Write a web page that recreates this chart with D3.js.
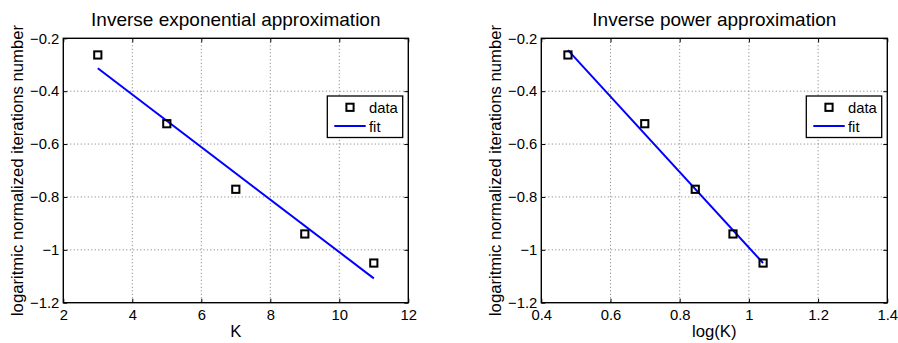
<!DOCTYPE html>
<html lang="en">
  <head>
    <meta charset="UTF-8" />
    <title>Inverse exponential / power approximation</title>
    <script src="https://d3js.org/d3.v7.min.js"></script>
    <style>
      html,
      body {
        margin: 0;
        padding: 0;
        background: #fff;
      }
      svg text {
        font-family: "Liberation Sans", Arial, Helvetica, sans-serif;
        fill: #000;
      }
      .grid line {
        stroke: #7a7a7a;
        stroke-width: 1;
        stroke-dasharray: 1, 2.5;
      }
    </style>
  </head>
  <body>
    <div id="chart"></div>

    <script>
      // Données
      const kValues = [3, 5, 7, 9, 11];
      const logKValues = [0.477, 0.699, 0.845, 0.954, 1.041];
      const logIterations = [-0.263, -0.523, -0.771, -0.94, -1.05];

      // Extrémités des droites de régression
      const expFitX = [3, 11];
      const expFitY = [-0.313, -1.108];
      const powFitX = [0.477, 1.041];
      const powFitY = [-0.245, -1.05];

      // Graduations
      const expXTicks = [2, 4, 6, 8, 10, 12];
      const powXTicks = [0.4, 0.6, 0.8, 1, 1.2, 1.4];
      const yTicks = [-1.2, -1, -0.8, -0.6, -0.4, -0.2];

      const titles = ["Inverse exponential approximation", "Inverse power approximation"];
      const xLabels = ["K", "log(K)"];
      const yLabel = "logaritmic normalized iterations number";
      const legendLabels = ["data", "fit"];

      const width = 898;
      const height = 343;

      const svg = d3
        .select("#chart")
        .append("svg")
        .attr("width", width)
        .attr("height", height);

      const fmt = (d) => String(d).replace("-", "\u2212");

      function drawPanel(opts) {
        const left = opts.left,
          right = opts.right,
          top = 38.3,
          bottom = 302.7;

        const x = d3.scaleLinear().domain(opts.xDomain).range([left, right]);
        const y = d3.scaleLinear().domain([-1.2, -0.2]).range([bottom, top]);

        const g = svg.append("g");

        // grille pointillée
        const grid = g.append("g").attr("class", "grid");
        grid
          .selectAll("line.v")
          .data(opts.xTicks.slice(1, -1))
          .join("line")
          .attr("class", "v")
          .attr("x1", (d) => x(d))
          .attr("x2", (d) => x(d))
          .attr("y1", top)
          .attr("y2", bottom);
        grid
          .selectAll("line.h")
          .data(yTicks.slice(1, -1))
          .join("line")
          .attr("class", "h")
          .attr("x1", left)
          .attr("x2", right)
          .attr("y1", (d) => y(d))
          .attr("y2", (d) => y(d));

        // axes (graduations vers l'intérieur)
        const styleAxis = (sel, showText) => {
          sel.select(".domain").remove();
          sel.selectAll(".tick line").attr("stroke", "#000").attr("stroke-width", 1);
          sel
            .selectAll(".tick text")
            .style("font-size", "14.8px")
            .style("font-family", '"Liberation Sans", Arial, sans-serif')
            .attr("fill", "#000");
          if (!showText) sel.selectAll(".tick text").remove();
        };

        g.append("g")
          .attr("transform", `translate(0,${bottom})`)
          .call(
            d3.axisBottom(x).tickValues(opts.xTicks).tickFormat(fmt)
              .tickSizeInner(-4).tickSizeOuter(0).tickPadding(7.3)
          )
          .call((s) => styleAxis(s, true));
        g.append("g")
          .attr("transform", `translate(0,${top})`)
          .call(d3.axisTop(x).tickValues(opts.xTicks).tickSizeInner(-4).tickSizeOuter(0))
          .call((s) => styleAxis(s, false));
        g.append("g")
          .attr("transform", `translate(${left},0)`)
          .call(
            d3.axisLeft(y).tickValues(yTicks).tickFormat(fmt)
              .tickSizeInner(-4).tickSizeOuter(0).tickPadding(4)
          )
          .call((s) => styleAxis(s, true));
        g.append("g")
          .attr("transform", `translate(${right},0)`)
          .call(d3.axisRight(y).tickValues(yTicks).tickSizeInner(-4).tickSizeOuter(0))
          .call((s) => styleAxis(s, false));

        // cadre
        g.append("rect")
          .attr("x", left)
          .attr("y", top)
          .attr("width", right - left)
          .attr("height", bottom - top)
          .attr("fill", "none")
          .attr("stroke", "#000")
          .attr("stroke-width", 1.4);

        // droite de régression
        const fitData = opts.fitX.map((d, i) => [d, opts.fitY[i]]);
        g.append("path")
          .datum(fitData)
          .attr("fill", "none")
          .attr("stroke", "#0000ff")
          .attr("stroke-width", 2)
          .attr("d", d3.line().x((d) => x(d[0])).y((d) => y(d[1])));

        // points
        const pts = opts.xs.map((d, i) => [d, logIterations[i]]);
        g.selectAll("rect.pt")
          .data(pts)
          .join("rect")
          .attr("class", "pt")
          .attr("x", (d) => x(d[0]) - 3.6)
          .attr("y", (d) => y(d[1]) - 3.6)
          .attr("width", 7.2)
          .attr("height", 7.2)
          .attr("fill", "none")
          .attr("stroke", "#000")
          .attr("stroke-width", 2);

        // titre
        g.append("text")
          .attr("x", (left + right) / 2)
          .attr("y", 25.5)
          .attr("text-anchor", "middle")
          .style("font-size", "19px")
          .text(opts.title);

        // titres des axes
        g.append("text")
          .attr("x", (left + right) / 2)
          .attr("y", 336.7)
          .attr("text-anchor", "middle")
          .style("font-size", "16.7px")
          .text(opts.xLabel);

        g.append("text")
          .attr("transform", `translate(${left - 40},${(top + bottom) / 2}) rotate(-90)`)
          .attr("text-anchor", "middle")
          .style("font-size", "16.7px")
          .text(yLabel);

        // légende
        const lx = right - 81,
          ly = 96;
        const leg = g.append("g").attr("transform", `translate(${lx},${ly})`);
        leg.append("rect")
          .attr("width", 75.4)
          .attr("height", 41.5)
          .attr("fill", "#fff")
          .attr("stroke", "#000")
          .attr("stroke-width", 1.3);
        leg.append("rect")
          .attr("x", 22.7 - 3.6)
          .attr("y", 11.3 - 3.6)
          .attr("width", 7.2)
          .attr("height", 7.2)
          .attr("fill", "none")
          .attr("stroke", "#000")
          .attr("stroke-width", 2);
        leg.append("line")
          .attr("x1", 7)
          .attr("x2", 38.4)
          .attr("y1", 30)
          .attr("y2", 30)
          .attr("stroke", "#0000ff")
          .attr("stroke-width", 2);
        leg.append("text")
          .attr("x", 41.7)
          .attr("y", 17)
          .style("font-size", "14.8px")
          .text(legendLabels[0]);
        leg.append("text")
          .attr("x", 41.7)
          .attr("y", 35.7)
          .style("font-size", "14.8px")
          .text(legendLabels[1]);
      }

      drawPanel({
        left: 63.3,
        right: 408.3,
        xDomain: [2, 12],
        xTicks: expXTicks,
        xs: kValues,
        fitX: expFitX,
        fitY: expFitY,
        title: titles[0],
        xLabel: xLabels[0],
      });

      drawPanel({
        left: 541.3,
        right: 887.3,
        xDomain: [0.4, 1.4],
        xTicks: powXTicks,
        xs: logKValues,
        fitX: powFitX,
        fitY: powFitY,
        title: titles[1],
        xLabel: xLabels[1],
      });
    </script>
  </body>
</html>
